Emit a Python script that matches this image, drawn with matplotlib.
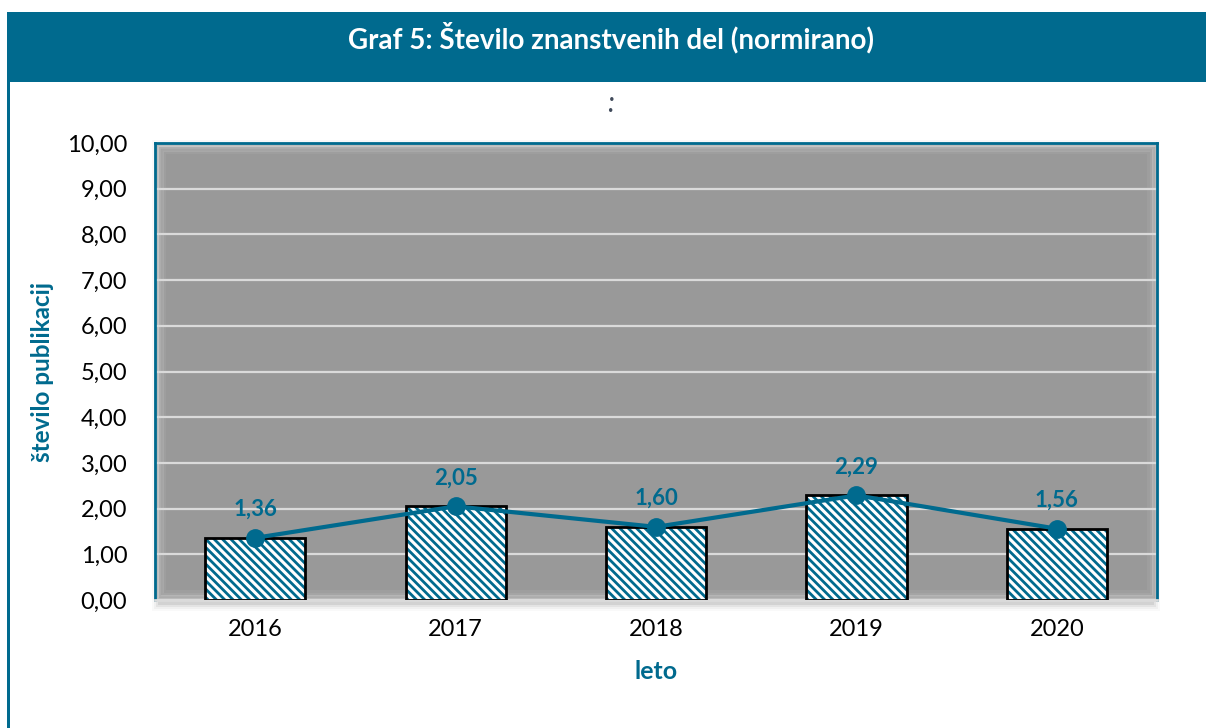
import matplotlib
matplotlib.use("Agg")
import matplotlib.pyplot as plt
from matplotlib.patches import Rectangle
from matplotlib.ticker import FuncFormatter

years = ["2016", "2017", "2018", "2019", "2020"]
values = [1.36, 2.05, 1.60, 2.29, 1.56]
labels = ["1,36", "2,05", "1,60", "2,29", "1,56"]
yticks = [0, 1, 2, 3, 4, 5, 6, 7, 8, 9, 10]

BLUE = "#006A8E"
plt.rcParams['font.family'] = ['Lato', 'DejaVu Sans']
plt.rcParams['hatch.linewidth'] = 2.0

fig = plt.figure(figsize=(12.06, 7.28), dpi=100)
W, H = 1206, 728

def fx(px): return px / W
def fy(py): return 1 - py / H

# header band
fig.patches.append(Rectangle((fx(7), fy(82)), fx(1206) - fx(7), fy(12) - fy(82),
                             transform=fig.transFigure, facecolor=BLUE, edgecolor='none', zorder=-2))
# left frame line
fig.patches.append(Rectangle((fx(7), 0), fx(3), fy(12),
                             transform=fig.transFigure, facecolor=BLUE, edgecolor='none', zorder=-2))
fig.text(fx(611), fy(38), "Graf 5: Število znanstvenih del (normirano)", color='white',
         fontsize=20, fontweight='bold', ha='center', va='center')
fig.text(fx(610), fy(104), ":", color='#404a5a', fontsize=20, style='italic', ha='center', va='center')

# soft shadow behind plot area
for i, a in enumerate([0.07, 0.05, 0.035, 0.025]):
    d = 1 + i * 2
    fig.patches.append(Rectangle((fx(155 - d + 4), fy(600 + d + 4)),
                                 (1002 + 2 * d - 8) / W, (457 + 2 * d) / H,
                                 transform=fig.transFigure, facecolor='black', alpha=a,
                                 edgecolor='none', zorder=-1))

ax = fig.add_axes([fx(155), fy(600), fx(1157) - fx(155), fy(143) - fy(600)])
ax.set_facecolor('#999999')
x = list(range(len(years)))
ax.set_xlim(-0.5, len(years) - 0.5)
ax.set_ylim(0, 10)
ax.set_yticks(yticks)
ax.yaxis.set_major_formatter(FuncFormatter(lambda v, p: f"{v:.2f}".replace('.', ',')))
ax.set_xticks(x)
ax.set_xticklabels(years)
ax.grid(axis='y', color='#DADADA', linewidth=1.6)
ax.set_axisbelow(True)
ax.tick_params(length=0, labelsize=17, colors='black')
ax.tick_params(axis='y', pad=20)
ax.tick_params(axis='x', pad=14)
for s in ['left', 'top', 'right']:
    ax.spines[s].set_color(BLUE)
    ax.spines[s].set_linewidth(2)
ax.spines['bottom'].set_color('#DADADA')
ax.spines['bottom'].set_linewidth(2)

# inner glow along plot area edges
aw, ah = 1002, 457
for i, a in enumerate([0.35, 0.22, 0.12, 0.06]):
    inset = 1.5 + i * 2.5
    ax.add_patch(Rectangle((inset / aw, inset / ah), 1 - 2 * inset / aw, 1 - 2 * inset / ah,
                           transform=ax.transAxes, fill=False, edgecolor='white', alpha=a,
                           linewidth=2, zorder=0.5))

ax.bar(x, values, width=0.5, facecolor='white', edgecolor=BLUE, hatch='\\' * 4, linewidth=0, zorder=2)
ax.bar(x, values, width=0.5, fill=False, edgecolor='black', linewidth=2, zorder=3)
ax.plot(x, values, color=BLUE, linewidth=3, marker='o', markersize=12.5, zorder=4)
for xi, v, lab in zip(x, values, labels):
    ax.annotate(lab, (xi, v), xytext=(0, 13), textcoords='offset points', ha='center', va='bottom',
                color=BLUE, fontsize=16, fontweight='bold', zorder=5)

ax.set_ylabel("število publikacij", color=BLUE, fontsize=17.5, fontweight='bold', labelpad=9)
ax.set_xlabel("leto", color=BLUE, fontsize=18, fontweight='bold', labelpad=14)

fig.savefig("out.png", dpi=100)
